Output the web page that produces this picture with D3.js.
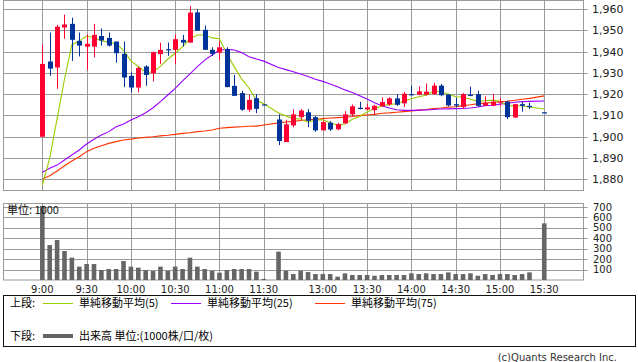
<!DOCTYPE html>
<html><head><meta charset="utf-8">
<script src="https://cdn.jsdelivr.net/npm/d3@7"></script>
<style>
body{margin:0;background:#fff;}
svg{display:block;}
text{font-family:"DejaVu Sans",sans-serif;}
.jp{font-family:"Noto Sans CJK JP",sans-serif;}
</style></head>
<body><svg id="c" width="638" height="362"></svg>
<script>
const times = ["9:00","9:05","9:10","9:15","9:20","9:25","9:30","9:35","9:40","9:45","9:50","9:55",
"10:00","10:05","10:10","10:15","10:20","10:25","10:30","10:35","10:40","10:45","10:50","10:55",
"11:00","11:05","11:10","11:15","11:20","11:25","11:30",
"12:30","12:35","12:40","12:45","12:50","12:55","13:00","13:05","13:10","13:15","13:20","13:25",
"13:30","13:35","13:40","13:45","13:50","13:55","14:00","14:05","14:10","14:15","14:20","14:25",
"14:30","14:35","14:40","14:45","14:50","14:55","15:00","15:05","15:10","15:15","15:20","15:30"];
const openP = [1900,1935.3,1932.5,1951.3,1953,1945,1942.3,1942.3,1947.3,1946.4,1944.7,1938.9,
1928.6,1923.1,1933,1929.8,1938.8,1941.1,1940.8,1945.5,1944.2,1958.4,1950.2,1940.8,
1939.5,1941.1,1923.9,1920.5,1912.7,1918.1,1915.2,
1908.1,1897.5,1905.3,1909.2,1911.5,1909.2,1903,1906.6,1903.5,1906.3,1910.5,1913.6,
1912.8,1912.5,1914.3,1915.2,1918,1915.7,1920,1919.8,1919.8,1920,1924,1919.8,
1915.3,1914,1919.7,1920,1914.6,1914.6,1916.2,1916.5,1909,1915.3,1914.5,1911.5];
const highP = [1943.1,1948.9,1952.5,1957.3,1955.9,1948.9,1948,1953,1950.8,1948.9,1944.7,1944.7,
1930.2,1933,1933.6,1940,1944.2,1944.2,1947.8,1947.8,1961.4,1959.8,1952.2,1942,
1944.7,1942,1929,1921.6,1919.7,1920,1915.2,
1910.5,1908,1912.8,1913.1,1913,1909.7,1907.5,1907.3,1906.5,1912,1915.2,1916.4,
1915.5,1915,1918.5,1918.5,1920,1921,1924,1923.7,1925,1925.3,1924.8,1920,
1918.3,1920.5,1923.5,1921.6,1919,1920,1918.2,1917,1915.5,1916.5,1916,1911.5];
const lowP = [1899.8,1928.6,1922.5,1946,1935.6,1937.7,1931.4,1937.3,1942.8,1942.3,1934.8,1923.3,
1920.8,1920.8,1923.9,1926,1934.2,1938,1934.1,1942.3,1944.2,1949.8,1940.8,1938,
1936.1,1923.3,1919.2,1912.2,1911.7,1911.1,1915,
1896.1,1897.5,1904.4,1908.1,1904.5,1902.3,1903,1902.7,1903,1906,1909.5,1912.8,
1912.5,1910.5,1914,1914.5,1914.5,1914,1919.5,1919.5,1919.3,1919.8,1919,1914.2,
1914,1913,1919,1914,1914.5,1914.3,1914.2,1908.3,1909,1911.8,1913,1911.5];
const closeP = [1934.2,1932,1951.7,1952.7,1945.5,1942.8,1943.6,1947.8,1945.2,1942.8,1939.2,1927.8,
1923.1,1932.3,1929,1939.7,1940.8,1940.8,1945.8,1944.2,1958.3,1949.8,1940.8,1938.9,
1942,1923.3,1919.2,1912.7,1917.3,1913.1,1915,
1898,1905.8,1910.5,1912.3,1907.5,1903,1906.9,1903.4,1906,1910.5,1914.3,1913.2,
1913.8,1914.5,1916.3,1918,1915,1920.2,1919.7,1921.3,1921.2,1924,1919.5,1914.7,
1914.6,1920,1919.3,1914.5,1915.9,1916.5,1916.6,1909.2,1915.3,1914.5,1914.3,1911.5];
const ma5 = [1877.3,1890,1908.5,1927,1943.2,1944.9,1947.3,1946.5,1945.0,1944.4,1943.7,1940.6,
1935.6,1933.0,1930.3,1930.4,1933.0,1936.5,1939.2,1942.3,1946.0,1947.8,1947.8,1946.4,
1946.0,1939.0,1932.8,1927.2,1922.9,1917.1,1915.5,
1911.2,1909.8,1908.5,1908.3,1906.8,1907.8,1908.0,1906.6,1905.4,1906.0,1908.2,1909.5,
1911.6,1913.3,1914.4,1915.2,1915.5,1916.8,1917.8,1918.8,1919.5,1921.3,1921.1,1920.1,
1918.8,1918.6,1917.6,1916.6,1916.9,1917.2,1916.6,1914.5,1914.7,1914.4,1914.0,1913.0];
const ma25 = [1883.3,1885.2,1886.7,1889.1,1891.4,1893.8,1896.6,1898.8,1900.8,1902.4,1904.7,1906.0,
1907.9,1909.4,1911.3,1913.6,1916.5,1919.6,1922.7,1926.2,1929.5,1932.9,1936.0,1938.4,
1940.7,1941.0,1940.7,1939.5,1937.6,1936.5,1935.5,
1932.5,1931.5,1930.5,1929.5,1928.3,1927.0,1926.0,1924.8,1923.5,1922.0,1920.8,1919.3,
1917.7,1916.0,1914.6,1913.5,1912.7,1912.4,1912.4,1912.5,1912.6,1912.8,1913.0,1913.1,
1913.2,1913.3,1913.5,1914.0,1914.6,1914.8,1915.3,1915.7,1916.2,1916.5,1916.6,1916.8];
const ma75 = [1880.2,1881.7,1883.9,1886.4,1888.6,1890.6,1893.0,1894.6,1895.8,1896.9,1897.7,1898.5,
1898.9,1899.4,1899.7,1900.0,1900.4,1900.7,1901.1,1901.6,1901.9,1902.4,1902.7,1903.2,
1904.0,1904.3,1904.5,1904.7,1904.9,1905.0,1905.5,
1906.5,1906.9,1907.2,1907.6,1907.9,1908.2,1908.5,1908.8,1909.0,1909.2,1909.5,1909.9,
1910.2,1910.5,1911.0,1911.2,1911.5,1911.8,1912.1,1912.5,1912.8,1913.2,1913.5,1913.9,
1914.1,1914.6,1915.0,1915.5,1915.8,1916.1,1916.4,1916.7,1917.1,1917.6,1918.0,1919.2];
const volume = [710,335,383,278,214,128,153,153,96,105,105,182,
128,118,96,86,128,89,128,105,214,128,105,89,
70,96,105,105,105,80,10,
272,89,57,89,76,57,57,57,32,64,48,48,
48,41,48,48,48,48,64,57,64,57,57,73,
57,57,64,41,57,48,57,57,48,57,73,543];
const timeTicks = ["9:00","9:30","10:00","10:30","11:00","11:30","13:00","13:30","14:00","14:30","15:00","15:30"];
const priceTicks = [1880,1890,1900,1910,1920,1930,1940,1950,1960];
const volTicks = [100,200,300,400,500,600,700];

function slot(t){const [h,m]=t.split(":").map(Number);const mm=h*60+m;return mm<720?(mm-540)/5:(mm-750)/5+32;}

const svg = d3.select("#c");
svg.append("rect").attr("width",638).attr("height",362).attr("fill","#fff");
const L=3.5, R=583.5;
const x = d3.scaleLinear().domain([-5.33,73.25]).range([L-0.5,R-0.5]);
const y = d3.scaleLinear().domain([1875,1964.2]).range([190,0]);
const yv = d3.scaleLinear().domain([0,738]).range([280,203]);
const gridC="#9a9a9a";
const px = v=>Math.round(v)+0.5;

// price panel grid
const gp = svg.append("g");
gp.selectAll(".hg").data(priceTicks).join("line")
 .attr("x1",L).attr("x2",R+4).attr("y1",d=>px(y(d))).attr("y2",d=>px(y(d))).attr("stroke",gridC);
gp.selectAll(".vg").data(timeTicks).join("line")
 .attr("x1",d=>px(x(slot(d)))).attr("x2",d=>px(x(slot(d)))).attr("y1",0).attr("y2",190).attr("stroke",gridC);
gp.append("rect").attr("x",L).attr("y",0.5).attr("width",R-L).attr("height",190).attr("fill","none").attr("stroke",gridC);
gp.selectAll(".pl").data(priceTicks).join("text")
 .attr("x",592).attr("y",d=>y(d)+4).attr("font-size",11).attr("fill","#222").text(d3.format(","));

// volume grid
const gv = svg.append("g");
gv.selectAll(".hg").data(volTicks).join("line")
 .attr("x1",L).attr("x2",R+4).attr("y1",d=>px(yv(d))).attr("y2",d=>px(yv(d))).attr("stroke",gridC);
gv.selectAll(".vg").data(timeTicks).join("line")
 .attr("x1",d=>px(x(slot(d)))).attr("x2",d=>px(x(slot(d)))).attr("y1",203).attr("y2",280).attr("stroke",gridC);
gv.append("rect").attr("x",L).attr("y",203.5).attr("width",R-L).attr("height",76.5).attr("fill","none").attr("stroke",gridC);
gv.selectAll(".vl").data(volTicks).join("text")
 .attr("x",593).attr("y",d=>Math.max(yv(d)+3.5,211)).attr("font-size",10).attr("fill","#222").text(d=>d);
svg.selectAll(".xl").data(timeTicks).join("text")
 .attr("x",d=>x(slot(d))).attr("y",293).attr("text-anchor","middle").attr("font-size",10).attr("fill","#222").text(d=>d);

// volume bars
svg.append("g").selectAll("rect").data(volume).join("rect")
 .attr("x",(d,i)=>x(slot(times[i]))-2.3).attr("width",4.6)
 .attr("y",d=>yv(d)).attr("height",d=>280-yv(d)).attr("fill","#666");
svg.append("text").attr("class","jp").attr("x",7).attr("y",214).attr("font-size",11).attr("fill","#111").text("単位: 1000");

// MA lines
const line = arr => d3.line().x((d,i)=>x(slot(times[i]))).y(d=>y(d))(arr);
[[ma75,"#ff3300"],[ma25,"#9900ff"],[ma5,"#99cc00"]].forEach(([a,c])=>{
  svg.append("path").attr("d",line(a)).attr("fill","none").attr("stroke",c).attr("stroke-width",1.1);
});

// candles
const cg = svg.append("g");
times.forEach((t,i)=>{
  const cx = Math.round(x(slot(t)))+0.5;
  const up = closeP[i]>openP[i];
  const col = up?"#ff0033":"#003399";
  cg.append("line").attr("x1",cx).attr("x2",cx).attr("y1",y(highP[i])).attr("y2",y(lowP[i])).attr("stroke",col);
  const top=y(Math.max(openP[i],closeP[i])), bot=y(Math.min(openP[i],closeP[i]));
  cg.append("rect").attr("x",cx-2.5).attr("width",5).attr("y",top).attr("height",Math.max(bot-top,1.2)).attr("fill",col);
});

// legend
const lg = svg.append("g");
lg.append("rect").attr("x",3.5).attr("y",295.5).attr("width",632).attr("height",51).attr("fill","none").attr("stroke","#111");
lg.append("text").attr("class","jp").attr("x",10).attr("y",307).attr("font-size",11).text("上段:");
lg.append("text").attr("class","jp").attr("x",10).attr("y",340).attr("font-size",11).text("下段:");
const items=[[43,"#99cc00","単純移動平均(5)"],[171,"#9900ff","単純移動平均(25)"],[315,"#ff3300","単純移動平均(75)"]];
items.forEach(([lx,c,t])=>{
  lg.append("line").attr("x1",lx).attr("x2",lx+30).attr("y1",303.5).attr("y2",303.5).attr("stroke",c);
  lg.append("text").attr("class","jp").attr("x",lx+36).attr("y",307).attr("font-size",11).text(t);
});
lg.append("line").attr("x1",43).attr("x2",73).attr("y1",336).attr("y2",336).attr("stroke","#666").attr("stroke-width",4);
lg.append("text").attr("class","jp").attr("x",79).attr("y",340).attr("font-size",11).text("出来高 単位:(1000株/口/枚)");
svg.append("text").attr("x",617).attr("y",361).attr("text-anchor","end").attr("font-size",10).attr("fill","#333").text("(c)Quants Research Inc.");
</script></body></html>
